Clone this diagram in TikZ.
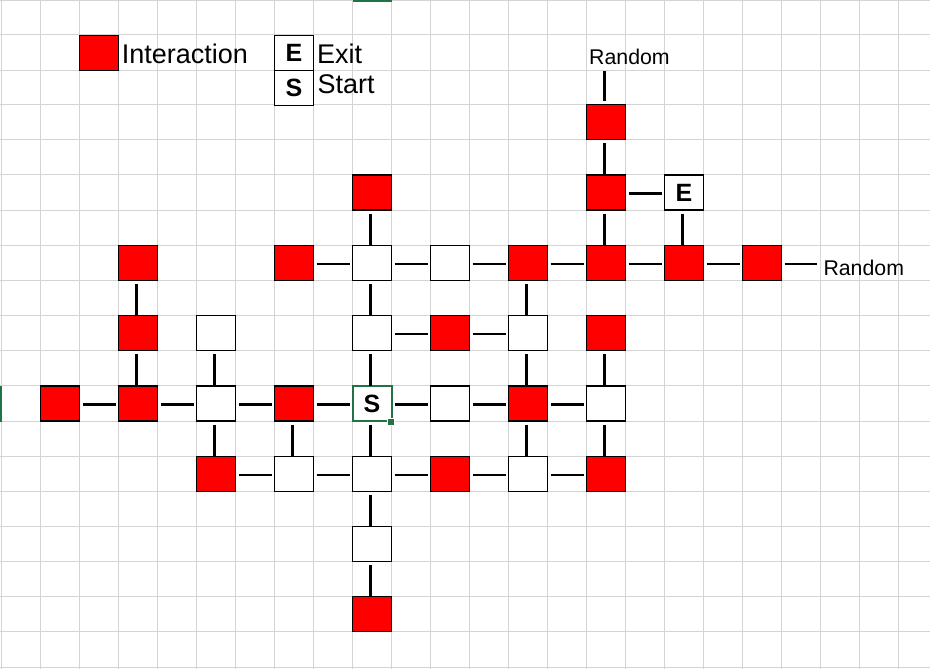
\documentclass[tikz,border=0pt]{standalone}
\usepackage{fontspec}
\setmainfont{Liberation Sans}
\definecolor{gridgray}{RGB}{212,212,212}
\definecolor{xlgreen}{RGB}{33,115,70}
\definecolor{roomred}{RGB}{255,0,0}
\tikzset{
  cellbox/.style={draw=black, line width=1.1pt, minimum width=39pt, minimum height=35pt, inner sep=0pt, outer sep=0pt},
  room/.style={cellbox, fill=white, font=\fontsize{25}{29}\selectfont\bfseries},
  inter/.style={cellbox, fill=roomred},
  startbox/.style={cellbox, draw=xlgreen, line width=2pt, fill=white, font=\fontsize{25}{29}\selectfont\bfseries},
  conn/.style={draw=black, line width=2.5pt, line cap=butt},
  hconn/.style={conn, shorten <=3pt, shorten >=3pt},
  vconn/.style={conn, shorten <=3.5pt},
  bigtxt/.style={inner sep=0pt, anchor=base west, font=\fontsize{27}{31}\selectfont},
  smalltxt/.style={inner sep=0pt, anchor=base west, font=\fontsize{21.3}{25}\selectfont},
}
\begin{document}
\begin{tikzpicture}[x=1pt,y=-1pt]
\useasboundingbox (0,0) rectangle (930,669);
\fill[white] (0,0) rectangle (930,669);
% grid
\foreach \k in {0,...,23} \draw[gridgray, line width=1pt] ({1.5+39*\k},0) -- ({1.5+39*\k},669);
\foreach \yy in {0.5,35,71,104.5,139.5,174.5,210.5,245.5,280.5,315.5,350.5,385.5,421.5,456,491.5,526.5,561.5,596.5,631.5,667} \draw[gridgray, line width=1pt] (0,\yy) -- (930,\yy);
% excel selection marks
\fill[xlgreen] (352.5,0) rectangle (391.5,2.2);
\fill[xlgreen] (0,385.5) rectangle (2.2,421.5);
% legend
\node[inter] (lgred) at (99,53) {};
\node[bigtxt] (lgint) at (121.6,64) {Interaction};
\node[room] (lgE) at (294,53) {E};
\node[room] (lgS) at (294,87.75) {S};
\node[bigtxt] (lgexit) at (317,64) {Exit};
\node[bigtxt] (lgstart) at (317.5,94) {Start};
% rooms
\node[inter] (r3c15) at (606,122) {};
\node[inter] (r5c9) at (372,192.5) {};
\node[inter] (r5c15) at (606,192.5) {};
\node[room] (r5c17) at (684,192.5) {E};
\node[inter] (r7c3) at (138,263) {};
\node[inter] (r7c7) at (294,263) {};
\node[room] (r7c9) at (372,263) {};
\node[room] (r7c11) at (450,263) {};
\node[inter] (r7c13) at (528,263) {};
\node[inter] (r7c15) at (606,263) {};
\node[inter] (r7c17) at (684,263) {};
\node[inter] (r7c19) at (762,263) {};
\node[inter] (r9c3) at (138,333) {};
\node[room] (r9c5) at (216,333) {};
\node[room] (r9c9) at (372,333) {};
\node[inter] (r9c11) at (450,333) {};
\node[room] (r9c13) at (528,333) {};
\node[inter] (r9c15) at (606,333) {};
\node[inter] (r11c1) at (60,403.5) {};
\node[inter] (r11c3) at (138,403.5) {};
\node[room] (r11c5) at (216,403.5) {};
\node[inter] (r11c7) at (294,403.5) {};
\node[startbox] (r11c9) at (372,403.5) {S};
\node[room] (r11c11) at (450,403.5) {};
\node[inter] (r11c13) at (528,403.5) {};
\node[room] (r11c15) at (606,403.5) {};
\node[inter] (r13c5) at (216,473.75) {};
\node[room] (r13c7) at (294,473.75) {};
\node[room] (r13c9) at (372,473.75) {};
\node[inter] (r13c11) at (450,473.75) {};
\node[room] (r13c13) at (528,473.75) {};
\node[inter] (r13c15) at (606,473.75) {};
\node[room] (r15c9) at (372,544) {};
\node[inter] (r17c9) at (372,614) {};
% fill handle of selected cell
\fill[xlgreen, draw=white, line width=0.8pt] (387.5,418.5) rectangle (394,425);
% random labels
\node[smalltxt] (rndtop) at (589,64.3) {Random};
\node[smalltxt] (rndright) at (823.3,275) {Random};
\coordinate (rndtopend) at (604.5,71.5);
\coordinate (rndrightend) at (816.7,264);
% horizontal connectors
\foreach \a/\b in {r5c15/r5c17, r7c7/r7c9, r7c9/r7c11, r7c11/r7c13, r7c13/r7c15, r7c15/r7c17, r7c17/r7c19,
  r9c9/r9c11, r9c11/r9c13,
  r11c1/r11c3, r11c3/r11c5, r11c5/r11c7, r11c7/r11c9, r11c9/r11c11, r11c11/r11c13, r11c13/r11c15,
  r13c5/r13c7, r13c7/r13c9, r13c9/r13c11, r13c11/r13c13, r13c13/r13c15}
  \draw[hconn] ([yshift=-1pt]\a.east) -- ([yshift=-1pt]\b.west);
\draw[conn, shorten <=3pt] ([yshift=-1pt]r7c19.east) -- (rndrightend);
% vertical connectors
\foreach \a/\b in {r7c3/r9c3, r9c3/r11c3, r9c5/r11c5, r11c5/r13c5, r11c7/r13c7,
  r5c9/r7c9, r7c9/r9c9, r9c9/r11c9, r11c9/r13c9, r13c9/r15c9, r15c9/r17c9,
  r7c13/r9c13, r9c13/r11c13, r11c13/r13c13,
  r3c15/r5c15, r5c15/r7c15, r9c15/r11c15, r11c15/r13c15, r5c17/r7c17}
  \draw[vconn] ([xshift=-1.5pt]\a.south) -- ([xshift=-1.5pt]\b.north);
\draw[conn, shorten >=3.5pt] (rndtopend) -- ([xshift=-1.5pt]r3c15.north);
\end{tikzpicture}
\end{document}
